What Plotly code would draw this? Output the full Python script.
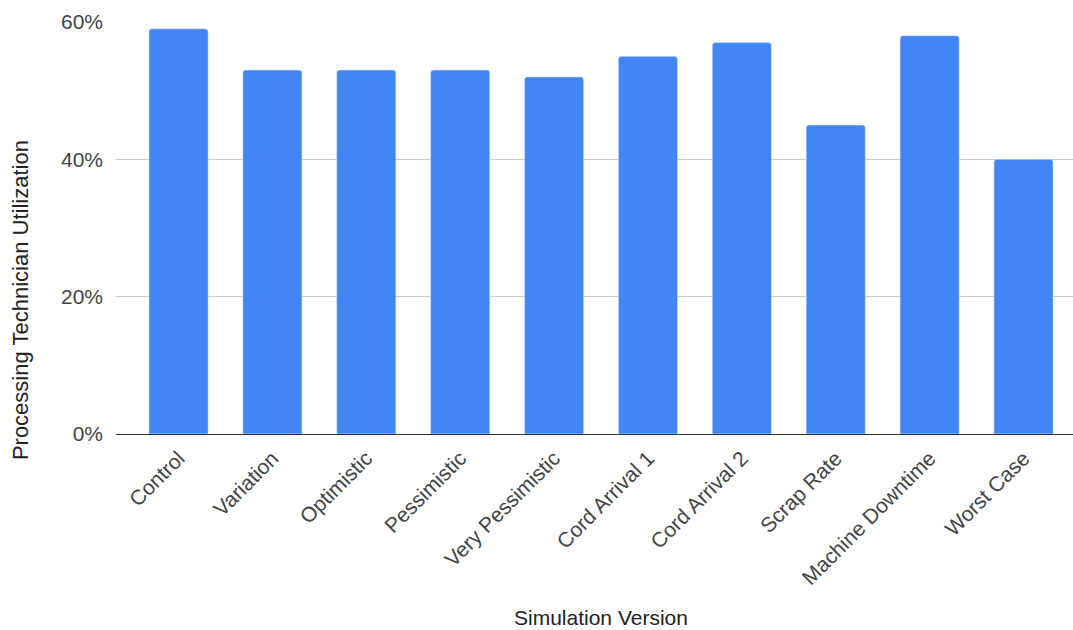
import plotly.graph_objects as go

categories = ["Control", "Variation", "Optimistic", "Pessimistic", "Very Pessimistic",
              "Cord Arrival 1", "Cord Arrival 2", "Scrap Rate", "Machine Downtime", "Worst Case"]
utilization = [0.59, 0.53, 0.53, 0.53, 0.52, 0.55, 0.57, 0.45, 0.58, 0.40]
y_ticks = [0, 0.2, 0.4, 0.6]
y_tick_labels = ["0%", "20%", "40%", "60%"]
x_title = "Simulation Version"
y_title = "Processing Technician Utilization"

fig = go.Figure(go.Bar(
    x=categories, y=utilization,
    marker=dict(color="#4285F4", cornerradius=3),
))

font = "Liberation Sans, Arial, sans-serif"
fig.update_layout(
    width=1073, height=630,
    margin=dict(l=116, r=0, t=22, b=196),
    plot_bgcolor="white", paper_bgcolor="white",
    bargap=0.37,
    showlegend=False,
    font=dict(family=font, size=21, color="#444444"),
    xaxis=dict(
        range=[-0.666, 9.527],
        automargin=False,
        tickangle=-45,
        tickfont=dict(family=font, size=21, color="#444444"),
        showgrid=False,
        showline=False,
        ticks="", ticklabelstandoff=7,
    ),
    yaxis=dict(
        range=[0, 0.6],
        automargin=False,
        tickvals=y_ticks, ticktext=y_tick_labels,
        tickfont=dict(family=font, size=21, color="#444444"),
        gridcolor="#cccccc", gridwidth=1,
        zeroline=True, zerolinecolor="#333333", zerolinewidth=1,
        ticks="", ticklabelstandoff=12,
    ),
    annotations=[
        dict(text=x_title, xref="paper", yref="paper", x=0.5068, y=-0.4466,
             xanchor="center", yanchor="middle", showarrow=False,
             font=dict(family=font, size=21, color="#222222")),
        dict(text=y_title, xref="paper", yref="paper", x=-0.1003, y=0.325,
             xanchor="center", yanchor="middle", textangle=-90, showarrow=False,
             font=dict(family=font, size=22, color="#222222")),
    ],
)
fig.write_html("out.html")
